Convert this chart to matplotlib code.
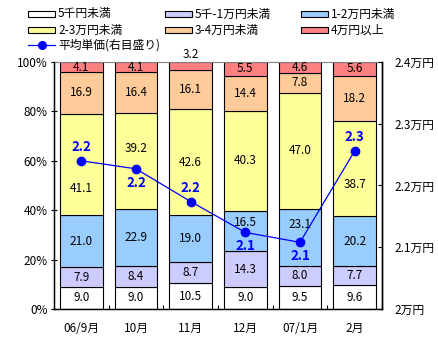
import matplotlib
matplotlib.use('Agg')
import matplotlib.pyplot as plt
from matplotlib.patches import Rectangle
from matplotlib.lines import Line2D
import numpy as np

plt.rcParams['font.family'] = ['Noto Sans CJK JP', 'DejaVu Sans']
plt.rcParams['font.size'] = 8.5

months = ['06/9月', '10月', '11月', '12月', '07/1月', '2月']
series_names = ['5千円未満', '5千-1万円未満', '1-2万円未満', '2-3万円未満', '3-4万円未満', '4万円以上']
colors = ['#FFFFFF', '#CCCCFF', '#99CCFF', '#FFFF99', '#FFCC99', '#FF8080']

# share (%) by price band, bottom to top
under_5k = [9.0, 9.0, 10.5, 9.0, 9.5, 9.6]
k5_10k = [7.9, 8.4, 8.7, 14.3, 8.0, 7.7]
k10_20k = [21.0, 22.9, 19.0, 16.5, 23.1, 20.2]
k20_30k = [41.1, 39.2, 42.6, 40.3, 47.0, 38.7]
k30_40k = [16.9, 16.4, 16.1, 14.4, 7.8, 18.2]
over_40k = [4.1, 4.1, 3.2, 5.5, 4.6, 5.6]
shares = [under_5k, k5_10k, k10_20k, k20_30k, k30_40k, over_40k]

# average unit price (万円), right axis
avg_price = [2.240, 2.227, 2.174, 2.124, 2.108, 2.256]
avg_label_side = [1, -1, 1, -1, -1, 1]  # +1 above point, -1 below

# labels nudged away from the price line: (series, month) -> shift in %
label_shift = {(3, 0): -9.5, (3, 1): 5.0, (3, 5): -6.5, (2, 3): 3.5, (2, 4): 5.3}

fig = plt.figure(figsize=(4.38, 3.42), dpi=100)
ax1 = fig.add_axes([54 / 438, 1 - 309 / 342, 328 / 438, 247 / 342])

x = np.arange(len(months))
bottom = np.zeros(len(months))
for k, (vals, col) in enumerate(zip(shares, colors)):
    vals = np.array(vals)
    ax1.bar(x, vals, bottom=bottom, width=0.78, color=col, edgecolor='black', linewidth=0.8, zorder=2)
    for i, v in enumerate(vals):
        if v < 3.5:
            ax1.text(x[i], 100.3, '%.1f' % v, ha='center', va='bottom', fontsize=8.5, clip_on=False)
        else:
            y = bottom[i] + v / 2 + label_shift.get((k, i), 0)
            ax1.text(x[i], y, '%.1f' % v, ha='center', va='center', fontsize=8.5, zorder=3)
    bottom += vals

ax1.set_xlim(-0.5, len(months) - 0.5)
ax1.set_ylim(0, 100)
ax1.set_yticks(np.arange(0, 101, 20))
ax1.set_yticklabels(['%d%%' % v for v in range(0, 101, 20)])
ax1.set_xticks(x)
ax1.set_xticklabels(months)
ax1.set_xticks(np.arange(0.5, len(months) - 1, 1), minor=True)
ax1.tick_params(axis='x', which='major', length=0, pad=9)
ax1.tick_params(axis='x', which='minor', direction='in', length=3, width=0.8)
ax1.tick_params(axis='y', direction='inout', length=5, width=0.8, pad=2)
ax1.spines['top'].set_color('#808080')
for s in ['left', 'bottom', 'right']:
    ax1.spines[s].set_linewidth(1.0)

ax2 = ax1.twinx()
ax2.plot(x, avg_price, color='#0000FF', linewidth=0.9, marker='o', markersize=6, zorder=5)
for i, v in enumerate(avg_price):
    ax2.annotate('%.1f' % v, (x[i], v), xytext=(0, 10 * avg_label_side[i]), textcoords='offset points',
                 ha='center', va='center', color='#0000FF', fontsize=9.5, fontweight='bold')
ax2.set_ylim(2.0, 2.4)
rticks = [2.0, 2.1, 2.2, 2.3, 2.4]
ax2.set_yticks(rticks)
ax2.set_yticklabels(['%g万円' % t for t in rticks])
ax2.tick_params(axis='y', direction='in', length=3, width=0.8, pad=9)
ax2.spines['top'].set_visible(False)
ax2.spines['right'].set_linewidth(1.0)

# legend laid out in rows of three
col_x = [28, 165, 301]
row_y = [14, 30, 45]
W, H = 438.0, 342.0
for i, (name, col) in enumerate(zip(series_names, colors)):
    cx, cy = col_x[i % 3], row_y[i // 3]
    fig.patches.append(Rectangle((cx / W, 1 - (cy + 3) / H), 27 / W, 6 / H, transform=fig.transFigure,
                                 facecolor=col, edgecolor='black', linewidth=0.8))
    fig.text((cx + 30) / W, 1 - cy / H, name, ha='left', va='center', fontsize=8.5)
cx, cy = col_x[0], row_y[2]
fig.lines.append(Line2D([cx / W, (cx + 27) / W], [1 - cy / H, 1 - cy / H], transform=fig.transFigure,
                        color='#0000FF', linewidth=0.9))
fig.lines.append(Line2D([(cx + 13.5) / W], [1 - cy / H], transform=fig.transFigure,
                        color='#0000FF', marker='o', markersize=5.5))
fig.text((cx + 30) / W, 1 - cy / H, '平均単価(右目盛り)', ha='left', va='center', fontsize=8.5)

fig.savefig('out.png', dpi=100, facecolor='white')
